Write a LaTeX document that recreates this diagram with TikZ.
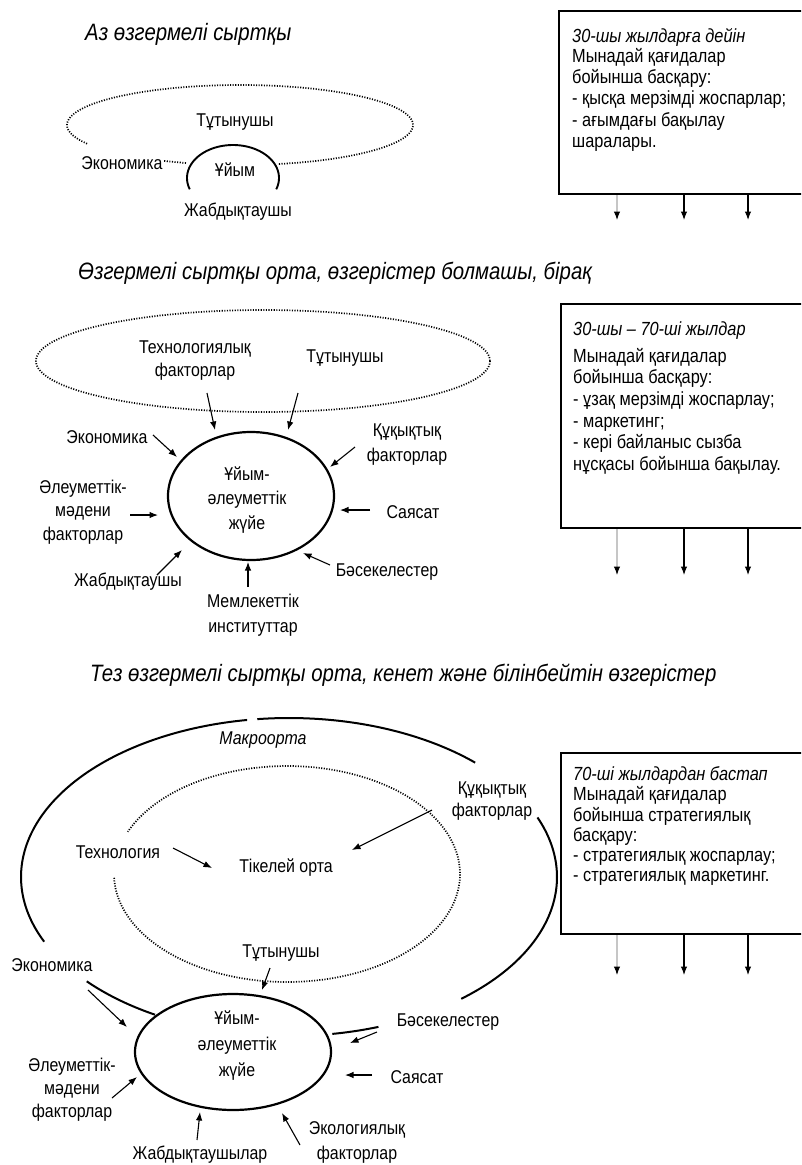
\documentclass[tikz,border=0pt]{standalone}
\usepackage{fontspec}
\setmainfont{Liberation Sans}[FakeStretch=0.86]
\usetikzlibrary{arrows.meta,shapes.geometric}
\newcommand\myarrow[4][]{\coordinate (#2s) at #3; \coordinate (#2e) at #4; \draw[arr,#1] (#2s) -- (#2e);}
\begin{document}
\begin{tikzpicture}[x=1pt,y=-1pt,
  lab/.style={font=\fontsize{18.5}{23}\selectfont, align=center, inner sep=1pt},
  boxtext/.style={font=\fontsize{19}{21.5}\selectfont, anchor=west, inner sep=0pt, text height=14pt, text depth=4pt},
  ttl/.style={font=\fontsize{23.7}{28}\selectfont\itshape, anchor=west, inner sep=0pt},
  arr/.style={line width=1.1pt, -{Latex[length=8.5pt,width=6.5pt]}},
  dots/.style={line width=1.7pt, dash pattern=on 1.1pt off 1.5pt},
  bold/.style={line width=2pt},
  panel/.style={draw, line width=2pt, anchor=north west, inner sep=0pt},
  org/.style={draw, ellipse, line width=2.2pt, inner sep=0pt}
]
\fill[white] (0,0) rectangle (801,1165);
\clip (0,0) rectangle (801,1165);

% ---------------- top section ----------------
\node[ttl] (title1) at (85,34) {Аз өзгермелі сыртқы};
\draw[dots] plot[domain=283:568, samples=150] ({240+173*cos(\x)},{125-40*sin(\x)});
\draw[dots] plot[domain=244:252, samples=10] ({240+173*cos(\x)},{125-40*sin(\x)});
\draw[line width=1.9pt] plot[domain=-20:200, samples=60] ({233+46*cos(\x)},{178-33*sin(\x)});
\node[lab] (t-cons) at (235,122) {Тұтынушы};
\node[lab] (t-econ) at (122,163) {Экономика};
\node[lab] (t-org) at (235,170) {Ұйым};
\node[lab] (t-sup) at (238,212) {Жабдықтаушы};

\node[panel, minimum width=260pt, minimum height=183pt] (box1) at (558,10) {};
\node[boxtext] (b1l1) at (572,37) {\itshape 30-шы жылдарға дейін};
\node[boxtext] (b1l2) at (572,57) {Мынадай қағидалар};
\node[boxtext] (b1l3) at (572,78) {бойынша басқару:};
\node[boxtext] (b1l4) at (572,99) {- қысқа мерзімді жоспарлар;};
\node[boxtext] (b1l5) at (572,121) {- ағымдағы бақылау};
\node[boxtext] (b1l6) at (572,142) {шаралары.};
\coordinate (b1a) at (617,220); \coordinate (b1b) at (684,220); \coordinate (b1c) at (748,220);
\draw[arr, draw=gray!45, -{Latex[length=8.5pt,width=6.5pt,color=black]}] (b1a |- box1.south) -- (b1a);
\draw[arr] (b1b |- box1.south) -- (b1b);
\draw[arr] (b1c |- box1.south) -- (b1c);

% ---------------- middle section ----------------
\node[ttl] (title2) at (78,273) {Өзгермелі сыртқы орта, өзгерістер болмашы, бірақ};
\draw[dots] (263,361) ellipse [x radius=227, y radius=51];
\node[org, minimum width=166pt, minimum height=128pt] (m-org) at (251,496) {};
\node[lab, font=\fontsize{18.5}{24.5}\selectfont] (m-orgtxt) at (247,500) {Ұйым-\\әлеуметтік\\жүйе};
\node[lab] (m-tech) at (195,361) {Технологиялық\\факторлар};
\node[lab] (m-cons) at (345,358) {Тұтынушы};
\node[lab] (m-econ) at (107,437) {Экономика};
\node[lab, font=\fontsize{18.5}{25}\selectfont] (m-law) at (407,445) {Құқықтық\\факторлар};
\node[lab, font=\fontsize{18.5}{23.5}\selectfont] (m-soc) at (83,512) {Әлеуметтік-\\мәдени\\факторлар};
\node[lab] (m-pol) at (413,512) {Саясат};
\node[lab] (m-sup) at (128,582) {Жабдықтаушы};
\node[lab] (m-comp) at (387,572) {Бәсекелестер};
\node[lab, font=\fontsize{18.5}{25}\selectfont] (m-gov) at (253,615) {Мемлекеттік\\институттар};
\myarrow{mtech}{(207,393)}{(215,430)}
\myarrow{mcons}{(298,393)}{(288,430)}
\myarrow{mecon}{(153,435)}{(177,457)}
\myarrow{mlaw}{(355,447)}{(330,467)}
\myarrow{msoc}{(130,515)}{(158,515)}
\myarrow{mpol}{(370,510)}{(340,510)}
\myarrow{msup}{(157,575)}{(182,550)}
\myarrow{mcomp}{(330,565)}{(303,553)}
\myarrow{mgov}{(248,587)}{(248,562)}

\node[panel, minimum width=260pt, minimum height=224pt] (box2) at (560,303) {};
\node[boxtext] (b2l1) at (573,330) {\itshape 30-шы – 70-ші жылдар};
\node[boxtext] (b2l2) at (573,357) {Мынадай қағидалар};
\node[boxtext] (b2l3) at (573,378) {бойынша басқару:};
\node[boxtext] (b2l4) at (573,400) {- ұзақ мерзімді жоспарлау;};
\node[boxtext] (b2l5) at (573,422) {- маркетинг;};
\node[boxtext] (b2l6) at (573,443) {- кері байланыс сызба};
\node[boxtext] (b2l7) at (573,465) {нұсқасы бойынша бақылау.};
\coordinate (b2a) at (617,575); \coordinate (b2b) at (684,575); \coordinate (b2c) at (748,575);
\draw[arr, draw=gray!45, -{Latex[length=8.5pt,width=6.5pt,color=black]}] (b2a |- box2.south) -- (b2a);
\draw[arr] (b2b |- box2.south) -- (b2b);
\draw[arr] (b2c |- box2.south) -- (b2c);

% ---------------- bottom section ----------------
\node[ttl] (title3) at (90,675) {Тез өзгермелі сыртқы орта, кенет және білінбейтін өзгерістер};
% outer ellipse (macro-environment), drawn in pieces
\draw[bold] plot[domain=46:96.8, samples=50] ({289+268*cos(\x)},{877-159*sin(\x)});
\draw[bold] plot[domain=99:204, samples=80] ({289+268*cos(\x)},{877-159*sin(\x)});
\draw[bold] plot[domain=221:240, samples=20] ({289+268*cos(\x)},{877-159*sin(\x)});
\draw[bold] plot[domain=-50:22, samples=60] ({289+268*cos(\x)},{877-159*sin(\x)});
\draw[bold] plot[domain=-80.7:-70.5, samples=10] ({289+268*cos(\x)},{877-159*sin(\x)});
% inner dotted ellipse (immediate environment)
\draw[dots] plot[domain=-178:157, samples=200] ({287+173*cos(\x)},{874-108*sin(\x)});
\node[lab, font=\fontsize{18.5}{22}\selectfont\itshape] (b-macro) at (263,740) {Макроорта};
\node[lab] (b-tech) at (118,852) {Технология};
\node[lab] (b-imm) at (286,868) {Тікелей орта};
\node[lab, font=\fontsize{18.5}{22}\selectfont] (b-law) at (492,801) {Құқықтық\\факторлар};
\node[lab] (b-cons) at (281,953) {Тұтынушы};
\node[lab] (b-econ) at (52,965) {Экономика};
\node[org, minimum width=196pt, minimum height=116pt] (b-org) at (233,1052) {};
\node[lab, font=\fontsize{18.5}{26}\selectfont] (b-orgtxt) at (237,1046) {Ұйым-\\әлеуметтік\\жүйе};
\node[lab] (b-comp) at (448,1022) {Бәсекелестер};
\node[lab] (b-pol) at (417,1077) {Саясат};
\node[lab, font=\fontsize{18.5}{23}\selectfont] (b-soc) at (72,1090) {Әлеуметтік-\\мәдени\\факторлар};
\node[lab] (b-sup) at (200,1155) {Жабдықтаушылар};
\node[lab, font=\fontsize{18.5}{25}\selectfont] (b-eco) at (357,1142) {Экологиялық\\факторлар};
\myarrow{btech}{(173,848)}{(212,868)}
\myarrow{blaw}{(432,810)}{(352,850)}
\myarrow{bcons}{(270,968)}{(262,990)}
\myarrow{becon}{(88,990)}{(127,1027)}
\myarrow{bcomp}{(377,1032)}{(350,1043)}
\myarrow{bpol}{(372,1075)}{(345,1075)}
\myarrow{bsoc}{(112,1098)}{(137,1077)}
\myarrow{bsup}{(197,1140)}{(200,1112)}
\myarrow{beco}{(300,1145)}{(282,1113)}

\node[panel, minimum width=260pt, minimum height=181pt] (box3) at (560,752) {};
\node[boxtext] (b3l1) at (573,775) {\itshape 70-ші жылдардан бастап};
\node[boxtext] (b3l2) at (573,795) {Мынадай қағидалар};
\node[boxtext] (b3l3) at (573,816) {бойынша стратегиялық};
\node[boxtext] (b3l4) at (573,836) {басқару:};
\node[boxtext] (b3l5) at (573,856) {- стратегиялық жоспарлау;};
\node[boxtext] (b3l6) at (573,876) {- стратегиялық маркетинг.};
\coordinate (b3a) at (617,975); \coordinate (b3b) at (684,975); \coordinate (b3c) at (748,975);
\draw[arr, draw=gray!45, -{Latex[length=8.5pt,width=6.5pt,color=black]}] (b3a |- box3.south) -- (b3a);
\draw[arr] (b3b |- box3.south) -- (b3b);
\draw[arr] (b3c |- box3.south) -- (b3c);
\end{tikzpicture}
\end{document}
